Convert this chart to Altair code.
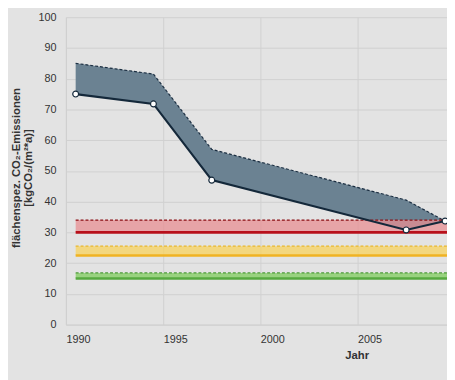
import altair as alt
import pandas as pd

years = [1990.5, 1994.5, 1997.5, 2007.5, 2009.5]
lower = [75, 71.8, 47, 30.8, 33.7]
upper = [85, 81.5, 57, 40.5, 33.7]

band_names = ["rot", "gelb", "gruen"]
band_lo = [30, 22.5, 15]
band_hi = [34, 25.5, 16.8]
band_x = [1990.5, 2010.5]

fills = {"rot": "#e88f93", "gelb": "#f8d35e", "gruen": "#7fcc5e"}
tops = {"rot": "#8a0f14", "gelb": "#eab82a", "gruen": "#4e9a3a"}
bottoms = {"rot": "#b8101a", "gelb": "#f0b323", "gruen": "#56a93f"}

main = pd.DataFrame({"Jahr": years, "lo": lower, "hi": upper})

xscale = alt.Scale(domain=[1990, 2009.6], nice=False, zero=False)
yscale = alt.Scale(domain=[0, 100], nice=False)

xax = alt.Axis(values=[1990, 1995, 2000, 2005], format="d", labelAlign="left",
               ticks=False, labelPadding=9, title="Jahr", titleX=296, titleY=25,
               titleFontWeight="bold", titleFontSize=11.5, titleColor="#333333",
               labelOverlap=False)
yax = alt.Axis(values=list(range(0, 101, 10)), ticks=False, labelPadding=10,
               title=["flächenspez. CO₂-Emissionen", "[kgCO₂/(m²*a)]"],
               titleFontWeight="bold", titleFontSize=11.5, titleColor="#333333",
               titleX=-45, titleY=153, titleAlign="center", titleBaseline="bottom",
               titleLineHeight=12, labelOverlap=False)


def X():
    return alt.X("Jahr:Q", scale=xscale, axis=xax)


def Y(field):
    return alt.Y(field, type="quantitative", scale=yscale, axis=yax)


base = alt.Chart(main)
area = base.mark_area(color="#6b8292", opacity=1).encode(x=X(), y=Y("lo"), y2="hi:Q")
upper_line = base.mark_line(color="#1c2f42", strokeWidth=1.2, strokeDash=[3, 2]).encode(
    x=X(), y=Y("hi"))
lower_line = base.mark_line(color="#14283a", strokeWidth=2.2).encode(x=X(), y=Y("lo"))
points = base.mark_point(filled=True, fill="white", stroke="#14283a", strokeWidth=1.2,
                         size=36, opacity=1, shape="circle").encode(x=X(), y=Y("lo"))

band_layers = []
for name, lo, hi in zip(band_names, band_lo, band_hi):
    df = pd.DataFrame({"Jahr": band_x, "lo": [lo, lo], "hi": [hi, hi]})
    b = alt.Chart(df)
    band_layers.append(b.mark_area(color=fills[name], opacity=0.75, clip=True).encode(
        x=X(), y=Y("lo"), y2="hi:Q"))
    band_layers.append(b.mark_line(color=tops[name], strokeWidth=1.3, strokeDash=[3, 2], clip=True).encode(
        x=X(), y=Y("hi")))
    band_layers.append(b.mark_line(color=bottoms[name], strokeWidth=2.6, clip=True).encode(
        x=X(), y=Y("lo")))

chart = alt.layer(area, upper_line, *band_layers, lower_line, points).properties(
    width=388, height=313,
    autosize=alt.AutoSizeParams(type="none"),
    padding={"left": 59, "top": 6, "right": 0, "bottom": 53},
    background="#e3e3e3",
).configure_view(stroke=None, fill="#e3e3e3").configure_axis(
    labelFont="Liberation Sans", titleFont="Liberation Sans", labelFontSize=11,
    labelColor="#333333", gridColor="#d0d0d0", gridWidth=1, domainColor="#d0d0d0",
    domain=True,
)

chart.save("out.html", embed_options={"renderer": "svg", "actions": False})
